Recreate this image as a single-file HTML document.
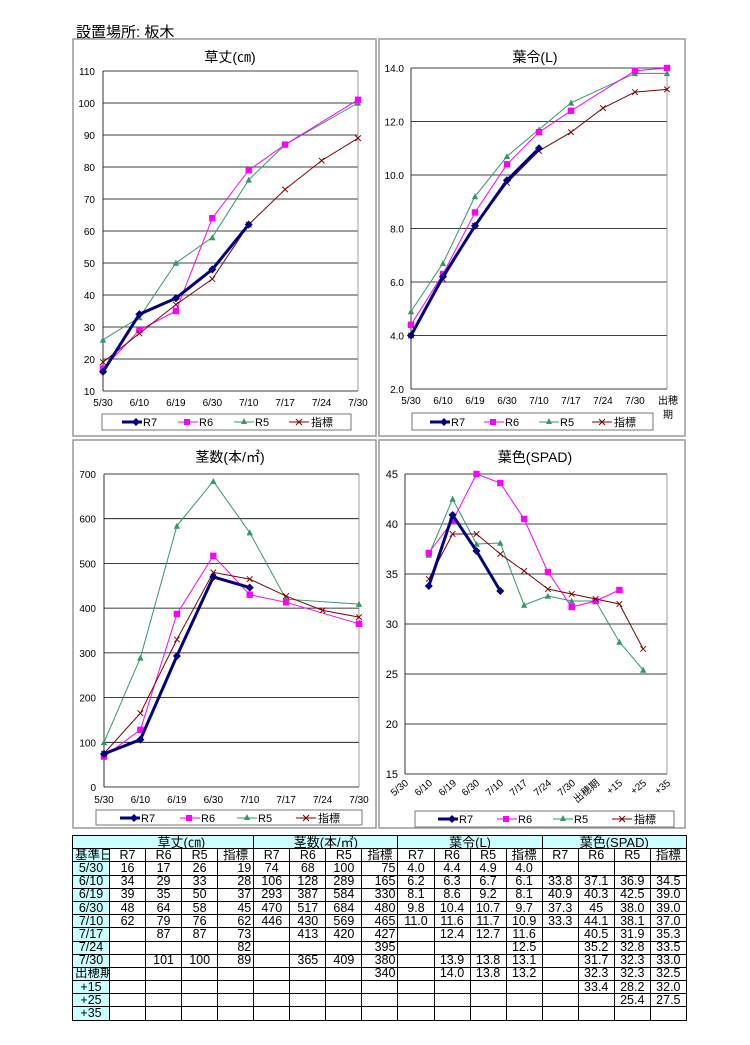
<!DOCTYPE html>
<html><head><meta charset="utf-8">
<style>
body{margin:0;background:#fff;width:750px;height:1045px;overflow:hidden;position:relative;font-family:"Liberation Sans","Noto Sans CJK JP",sans-serif;}
svg{position:absolute;left:0;top:0}
table{position:absolute;left:72px;top:835px;border-collapse:collapse;width:614px;table-layout:fixed;font-size:12.5px;}
td{border:1px solid #000;height:12.2px;padding:0 2px;line-height:11px;text-align:center;white-space:nowrap;overflow:hidden}
.h{background:#ccffff;font-size:13px}
.d{background:#ccffff}
.r{text-align:right}
</style></head><body>
<svg width="750" height="1045" viewBox="0 0 750 1045" font-family="Liberation Sans, Noto Sans CJK JP, sans-serif">
<defs>
<marker id="md" viewBox="-5 -5 10 10" markerWidth="9" markerHeight="9" refX="0" refY="0" markerUnits="userSpaceOnUse"><path d="M0-4.5L4.5 0 0 4.5-4.5 0z" fill="#000080"/></marker>
<marker id="ms" viewBox="-5 -5 10 10" markerWidth="8" markerHeight="8" refX="0" refY="0" markerUnits="userSpaceOnUse"><rect x="-4" y="-4" width="8" height="8" fill="#ff00ff"/></marker>
<marker id="mt" viewBox="-5 -5 10 10" markerWidth="8" markerHeight="8" refX="0" refY="0" markerUnits="userSpaceOnUse"><path d="M0-4L4 3.5-4 3.5z" fill="#339966"/></marker>
<marker id="mx" viewBox="-5 -5 10 10" markerWidth="8" markerHeight="8" refX="0" refY="0" markerUnits="userSpaceOnUse"><path d="M-3.5-3.5L3.5 3.5M3.5-3.5L-3.5 3.5" stroke="#800000" stroke-width="1.2"/></marker>
</defs>
<text x="76" y="37" font-size="15">設置場所:  板木</text>

<!-- Panel 1 -->
<rect x="73" y="39" width="303" height="397" fill="#fff" stroke="#999" stroke-width="1.5"/>
<text x="230" y="62" font-size="14" text-anchor="middle">草丈(㎝)</text>
<g stroke="#000" stroke-width="0.8">
<line x1="103" x2="358" y1="71" y2="71"/><line x1="103" x2="358" y1="103" y2="103"/><line x1="103" x2="358" y1="135" y2="135"/><line x1="103" x2="358" y1="167" y2="167"/><line x1="103" x2="358" y1="199" y2="199"/><line x1="103" x2="358" y1="231" y2="231"/><line x1="103" x2="358" y1="263" y2="263"/><line x1="103" x2="358" y1="295" y2="295"/><line x1="103" x2="358" y1="327" y2="327"/><line x1="103" x2="358" y1="359" y2="359"/><line x1="103" x2="358" y1="391" y2="391"/>
<line x1="103" x2="103" y1="71" y2="391"/><line x1="358" x2="358" y1="71" y2="391" stroke="#888"/>
</g>
<g font-size="10" text-anchor="end">
<text x="95" y="75">110</text><text x="95" y="107">100</text><text x="95" y="139">90</text><text x="95" y="171">80</text><text x="95" y="203">70</text><text x="95" y="235">60</text><text x="95" y="267">50</text><text x="95" y="299">40</text><text x="95" y="331">30</text><text x="95" y="363">20</text><text x="95" y="395">10</text>
</g>
<g font-size="10" text-anchor="middle">
<text x="103" y="406">5/30</text><text x="139.4" y="406">6/10</text><text x="175.9" y="406">6/19</text><text x="212.3" y="406">6/30</text><text x="248.7" y="406">7/10</text><text x="285.1" y="406">7/17</text><text x="321.6" y="406">7/24</text><text x="358" y="406">7/30</text>
</g>
<g fill="none">
<polyline points="103,339.8 139.4,317.4 175.9,263 212.3,237.4 248.7,179.8 285.1,144.6 358,103" stroke="#339966" stroke-width="1" marker-start="url(#mt)" marker-mid="url(#mt)" marker-end="url(#mt)"/>
<polyline points="103,368.6 139.4,330.2 175.9,311 212.3,218.2 248.7,170.2 285.1,144.6 358,99.8" stroke="#ff00ff" stroke-width="1" marker-start="url(#ms)" marker-mid="url(#ms)" marker-end="url(#ms)"/>
<polyline points="103,362.2 139.4,333.4 175.9,304.6 212.3,279 248.7,224.6 285.1,189.4 321.6,160.6 358,138.2" stroke="#800000" stroke-width="1" marker-start="url(#mx)" marker-mid="url(#mx)" marker-end="url(#mx)"/>
<polyline points="103,371.8 139.4,314.2 175.9,298.2 212.3,269.4 248.7,224.6" stroke="#000080" stroke-width="3" marker-start="url(#md)" marker-mid="url(#md)" marker-end="url(#md)"/>
</g>
<rect x="102" y="414" width="249" height="16" fill="#fff" stroke="#777"/>
<g font-size="11">
<line x1="122" x2="142" y1="422" y2="422" stroke="#000080" stroke-width="3"/><path d="M136 418l4 4-4 4-4-4z" fill="#000080"/><text x="143" y="426">R7</text>
<line x1="178" x2="198" y1="422" y2="422" stroke="#ff00ff"/><rect x="184" y="419" width="6" height="6" fill="#ff00ff"/><text x="199" y="426">R6</text>
<line x1="234" x2="254" y1="422" y2="422" stroke="#339966"/><path d="M244 418l3 6h-6z" fill="#339966"/><text x="255" y="426">R5</text>
<line x1="289" x2="309" y1="422" y2="422" stroke="#800000"/><path d="M296 419l6 6M302 419l-6 6" stroke="#800000"/><text x="311" y="426">指標</text>
</g>

<!-- Panel 2 -->
<rect x="379" y="39" width="306" height="397" fill="#fff" stroke="#999" stroke-width="1.5"/>
<text x="535" y="62" font-size="14" text-anchor="middle">葉令(L)</text>
<g stroke="#000" stroke-width="0.8">
<line x1="411" x2="667" y1="68" y2="68"/><line x1="411" x2="667" y1="121.5" y2="121.5"/><line x1="411" x2="667" y1="175" y2="175"/><line x1="411" x2="667" y1="228.5" y2="228.5"/><line x1="411" x2="667" y1="282" y2="282"/><line x1="411" x2="667" y1="335.5" y2="335.5"/><line x1="411" x2="667" y1="389" y2="389"/>
<line x1="411" x2="411" y1="68" y2="389"/><line x1="667" x2="667" y1="68" y2="389" stroke="#888"/>
</g>
<g font-size="10" text-anchor="end">
<text x="404" y="72">14.0</text><text x="404" y="125.5">12.0</text><text x="404" y="179">10.0</text><text x="404" y="232.5">8.0</text><text x="404" y="286">6.0</text><text x="404" y="339.5">4.0</text><text x="404" y="393">2.0</text>
</g>
<g font-size="10" text-anchor="middle">
<text x="411" y="404">5/30</text><text x="443" y="404">6/10</text><text x="475" y="404">6/19</text><text x="507" y="404">6/30</text><text x="539" y="404">7/10</text><text x="571" y="404">7/17</text><text x="603" y="404">7/24</text><text x="635" y="404">7/30</text><text x="668" y="404">出穂</text><text x="668" y="418">期</text>
</g>
<g fill="none">
<polyline points="411,311.4 443,263.3 475,196.4 507,156.3 539,129.5 571,102.8 635,73.35 667,73.35" stroke="#339966" stroke-width="1" marker-start="url(#mt)" marker-mid="url(#mt)" marker-end="url(#mt)"/>
<polyline points="411,324.8 443,274 475,212.45 507,164.3 539,132.2 571,110.8 635,70.7 667,68" stroke="#ff00ff" stroke-width="1" marker-start="url(#ms)" marker-mid="url(#ms)" marker-end="url(#ms)"/>
<polyline points="411,335.5 443,279.3 475,225.8 507,183 539,150.9 571,132.2 603,108.1 635,92.1 667,89.4" stroke="#800000" stroke-width="1" marker-start="url(#mx)" marker-mid="url(#mx)" marker-end="url(#mx)"/>
<polyline points="411,335.5 443,276.65 475,225.8 507,180.35 539,148.25" stroke="#000080" stroke-width="3" marker-start="url(#md)" marker-mid="url(#md)" marker-end="url(#md)"/>
</g>
<rect x="412" y="413" width="241" height="17" fill="#fff" stroke="#777"/>
<g font-size="11">
<line x1="430" x2="450" y1="422" y2="422" stroke="#000080" stroke-width="3"/><path d="M444 418l4 4-4 4-4-4z" fill="#000080"/><text x="451" y="426">R7</text>
<line x1="484" x2="504" y1="422" y2="422" stroke="#ff00ff"/><rect x="490" y="419" width="6" height="6" fill="#ff00ff"/><text x="505" y="426">R6</text>
<line x1="539" x2="559" y1="422" y2="422" stroke="#339966"/><path d="M549 418l3 6h-6z" fill="#339966"/><text x="560" y="426">R5</text>
<line x1="592" x2="612" y1="422" y2="422" stroke="#800000"/><path d="M599 419l6 6M605 419l-6 6" stroke="#800000"/><text x="614" y="426">指標</text>
</g>

<!-- Panel 3 -->
<rect x="73" y="440" width="303" height="388" fill="#fff" stroke="#999" stroke-width="1.5"/>
<text x="230" y="462" font-size="14" text-anchor="middle">茎数(本/㎡)</text>
<g stroke="#000" stroke-width="0.8">
<line x1="104" x2="359" y1="474" y2="474"/><line x1="104" x2="359" y1="518.7" y2="518.7"/><line x1="104" x2="359" y1="563.4" y2="563.4"/><line x1="104" x2="359" y1="608.1" y2="608.1"/><line x1="104" x2="359" y1="652.9" y2="652.9"/><line x1="104" x2="359" y1="697.6" y2="697.6"/><line x1="104" x2="359" y1="742.3" y2="742.3"/><line x1="104" x2="359" y1="787" y2="787"/>
<line x1="104" x2="104" y1="474" y2="787"/><line x1="359" x2="359" y1="474" y2="787" stroke="#888"/>
</g>
<g font-size="10" text-anchor="end">
<text x="96" y="478">700</text><text x="96" y="522.7">600</text><text x="96" y="567.4">500</text><text x="96" y="612.1">400</text><text x="96" y="656.9">300</text><text x="96" y="701.6">200</text><text x="96" y="746.3">100</text><text x="96" y="791">0</text>
</g>
<g font-size="10" text-anchor="middle">
<text x="104" y="803">5/30</text><text x="140.4" y="803">6/10</text><text x="176.9" y="803">6/19</text><text x="213.3" y="803">6/30</text><text x="249.7" y="803">7/10</text><text x="286.1" y="803">7/17</text><text x="322.6" y="803">7/24</text><text x="359" y="803">7/30</text>
</g>
<g fill="none">
<polyline points="104,742.3 140.4,657.8 176.9,525.9 213.3,481.2 249.7,532.6 286.1,599.2 359,604.1" stroke="#339966" stroke-width="1" marker-start="url(#mt)" marker-mid="url(#mt)" marker-end="url(#mt)"/>
<polyline points="104,756.6 140.4,729.8 176.9,614 213.3,555.8 249.7,594.7 286.1,602.3 359,623.8" stroke="#ff00ff" stroke-width="1" marker-start="url(#ms)" marker-mid="url(#ms)" marker-end="url(#ms)"/>
<polyline points="104,753.5 140.4,713.2 176.9,639.5 213.3,572.4 249.7,579.1 286.1,596.1 322.6,610.4 359,617.1" stroke="#800000" stroke-width="1" marker-start="url(#mx)" marker-mid="url(#mx)" marker-end="url(#mx)"/>
<polyline points="104,753.9 140.4,739.6 176.9,656 213.3,576.9 249.7,587.6" stroke="#000080" stroke-width="3" marker-start="url(#md)" marker-mid="url(#md)" marker-end="url(#md)"/>
</g>
<rect x="96" y="810" width="266" height="15" fill="#fff" stroke="#777"/>
<g font-size="11">
<line x1="120" x2="140" y1="818" y2="818" stroke="#000080" stroke-width="3"/><path d="M134 814l4 4-4 4-4-4z" fill="#000080"/><text x="141" y="822">R7</text>
<line x1="180" x2="200" y1="818" y2="818" stroke="#ff00ff"/><rect x="186" y="815" width="6" height="6" fill="#ff00ff"/><text x="201" y="822">R6</text>
<line x1="237" x2="257" y1="818" y2="818" stroke="#339966"/><path d="M247 814l3 6h-6z" fill="#339966"/><text x="258" y="822">R5</text>
<line x1="296" x2="316" y1="818" y2="818" stroke="#800000"/><path d="M303 815l6 6M309 815l-6 6" stroke="#800000"/><text x="318" y="822">指標</text>
</g>

<!-- Panel 4 -->
<rect x="379" y="440" width="306" height="388" fill="#fff" stroke="#999" stroke-width="1.5"/>
<text x="535" y="462" font-size="14" text-anchor="middle">葉色(SPAD)</text>
<g stroke="#000" stroke-width="0.8">
<line x1="405" x2="667" y1="474" y2="474"/><line x1="405" x2="667" y1="524" y2="524"/><line x1="405" x2="667" y1="574" y2="574"/><line x1="405" x2="667" y1="624" y2="624"/><line x1="405" x2="667" y1="674" y2="674"/><line x1="405" x2="667" y1="724" y2="724"/><line x1="405" x2="667" y1="774" y2="774"/>
<line x1="405" x2="405" y1="474" y2="774"/><line x1="667" x2="667" y1="474" y2="774" stroke="#888"/>
</g>
<g font-size="11" text-anchor="end">
<text x="398" y="478">45</text><text x="398" y="528">40</text><text x="398" y="578">35</text><text x="398" y="628">30</text><text x="398" y="678">25</text><text x="398" y="728">20</text><text x="398" y="778">15</text>
</g>
<g font-size="10" text-anchor="end">
<text transform="translate(409,784) rotate(-40)">5/30</text>
<text transform="translate(433,784) rotate(-40)">6/10</text>
<text transform="translate(457,784) rotate(-40)">6/19</text>
<text transform="translate(480,784) rotate(-40)">6/30</text>
<text transform="translate(504,784) rotate(-40)">7/10</text>
<text transform="translate(528,784) rotate(-40)">7/17</text>
<text transform="translate(552,784) rotate(-40)">7/24</text>
<text transform="translate(576,784) rotate(-40)">7/30</text>
<text transform="translate(600,784) rotate(-40)">出穂期</text>
<text transform="translate(623,784) rotate(-40)">+15</text>
<text transform="translate(647,784) rotate(-40)">+25</text>
<text transform="translate(671,784) rotate(-40)">+35</text>
</g>
<g fill="none">
<polyline points="428.8,555 452.6,499 476.5,544 500.3,543 524.1,605 547.9,596 571.7,601 595.6,601 619.4,642 643.2,670" stroke="#339966" stroke-width="1" marker-start="url(#mt)" marker-mid="url(#mt)" marker-end="url(#mt)"/>
<polyline points="428.8,553 452.6,521 476.5,474 500.3,483 524.1,519 547.9,572 571.7,607 595.6,601 619.4,590" stroke="#ff00ff" stroke-width="1" marker-start="url(#ms)" marker-mid="url(#ms)" marker-end="url(#ms)"/>
<polyline points="428.8,579 452.6,534 476.5,534 500.3,554 524.1,571 547.9,589 571.7,594 595.6,599 619.4,604 643.2,649" stroke="#800000" stroke-width="1" marker-start="url(#mx)" marker-mid="url(#mx)" marker-end="url(#mx)"/>
<polyline points="428.8,586 452.6,515 476.5,551 500.3,591" stroke="#000080" stroke-width="3" marker-start="url(#md)" marker-mid="url(#md)" marker-end="url(#md)"/>
</g>
<rect x="415" y="811" width="259" height="16" fill="#fff" stroke="#777"/>
<g font-size="11">
<line x1="438" x2="458" y1="819" y2="819" stroke="#000080" stroke-width="3"/><path d="M452 815l4 4-4 4-4-4z" fill="#000080"/><text x="459" y="823">R7</text>
<line x1="497" x2="517" y1="819" y2="819" stroke="#ff00ff"/><rect x="503" y="816" width="6" height="6" fill="#ff00ff"/><text x="518" y="823">R6</text>
<line x1="553" x2="573" y1="819" y2="819" stroke="#339966"/><path d="M563 815l3 6h-6z" fill="#339966"/><text x="574" y="823">R5</text>
<line x1="612" x2="632" y1="819" y2="819" stroke="#800000"/><path d="M619 816l6 6M625 816l-6 6" stroke="#800000"/><text x="634" y="823">指標</text>
</g>
</svg>

<table>
<colgroup><col style="width:37px"><col span="16" style="width:36.06px"></colgroup>
<tr><td class="h" style="border-right:none"></td><td class="h" colspan="4" style="border-left:none">草丈(㎝)</td><td class="h" colspan="4">茎数(本/㎡)</td><td class="h" colspan="4">葉令(L)</td><td class="h" colspan="4">葉色(SPAD)</td></tr>
<tr><td class="d">基準日</td><td>R7</td><td>R6</td><td>R5</td><td>指標</td><td>R7</td><td>R6</td><td>R5</td><td>指標</td><td>R7</td><td>R6</td><td>R5</td><td>指標</td><td>R7</td><td>R6</td><td>R5</td><td>指標</td></tr>
<tr><td class="d">5/30</td><td>16</td><td>17</td><td>26</td><td class="r">19</td><td>74</td><td>68</td><td>100</td><td class="r">75</td><td>4.0</td><td>4.4</td><td>4.9</td><td>4.0</td><td></td><td></td><td></td><td></td></tr>
<tr><td class="d">6/10</td><td>34</td><td>29</td><td>33</td><td class="r">28</td><td>106</td><td>128</td><td>289</td><td class="r">165</td><td>6.2</td><td>6.3</td><td>6.7</td><td>6.1</td><td>33.8</td><td>37.1</td><td>36.9</td><td>34.5</td></tr>
<tr><td class="d">6/19</td><td>39</td><td>35</td><td>50</td><td class="r">37</td><td>293</td><td>387</td><td>584</td><td class="r">330</td><td>8.1</td><td>8.6</td><td>9.2</td><td>8.1</td><td>40.9</td><td>40.3</td><td>42.5</td><td>39.0</td></tr>
<tr><td class="d">6/30</td><td>48</td><td>64</td><td>58</td><td class="r">45</td><td>470</td><td>517</td><td>684</td><td class="r">480</td><td>9.8</td><td>10.4</td><td>10.7</td><td>9.7</td><td>37.3</td><td>45</td><td>38.0</td><td>39.0</td></tr>
<tr><td class="d">7/10</td><td>62</td><td>79</td><td>76</td><td class="r">62</td><td>446</td><td>430</td><td>569</td><td class="r">465</td><td>11.0</td><td>11.6</td><td>11.7</td><td>10.9</td><td>33.3</td><td>44.1</td><td>38.1</td><td>37.0</td></tr>
<tr><td class="d">7/17</td><td></td><td>87</td><td>87</td><td class="r">73</td><td></td><td>413</td><td>420</td><td class="r">427</td><td></td><td>12.4</td><td>12.7</td><td>11.6</td><td></td><td>40.5</td><td>31.9</td><td>35.3</td></tr>
<tr><td class="d">7/24</td><td></td><td></td><td></td><td class="r">82</td><td></td><td></td><td></td><td class="r">395</td><td></td><td></td><td></td><td>12.5</td><td></td><td>35.2</td><td>32.8</td><td>33.5</td></tr>
<tr><td class="d">7/30</td><td></td><td>101</td><td>100</td><td class="r">89</td><td></td><td>365</td><td>409</td><td class="r">380</td><td></td><td>13.9</td><td>13.8</td><td>13.1</td><td></td><td>31.7</td><td>32.3</td><td>33.0</td></tr>
<tr><td class="d">出穂期</td><td></td><td></td><td></td><td></td><td></td><td></td><td></td><td class="r">340</td><td></td><td>14.0</td><td>13.8</td><td>13.2</td><td></td><td>32.3</td><td>32.3</td><td>32.5</td></tr>
<tr><td class="d">+15</td><td></td><td></td><td></td><td></td><td></td><td></td><td></td><td></td><td></td><td></td><td></td><td></td><td></td><td>33.4</td><td>28.2</td><td>32.0</td></tr>
<tr><td class="d">+25</td><td></td><td></td><td></td><td></td><td></td><td></td><td></td><td></td><td></td><td></td><td></td><td></td><td></td><td></td><td>25.4</td><td>27.5</td></tr>
<tr><td class="d">+35</td><td></td><td></td><td></td><td></td><td></td><td></td><td></td><td></td><td></td><td></td><td></td><td></td><td></td><td></td><td></td><td></td></tr>
</table>
</body></html>
